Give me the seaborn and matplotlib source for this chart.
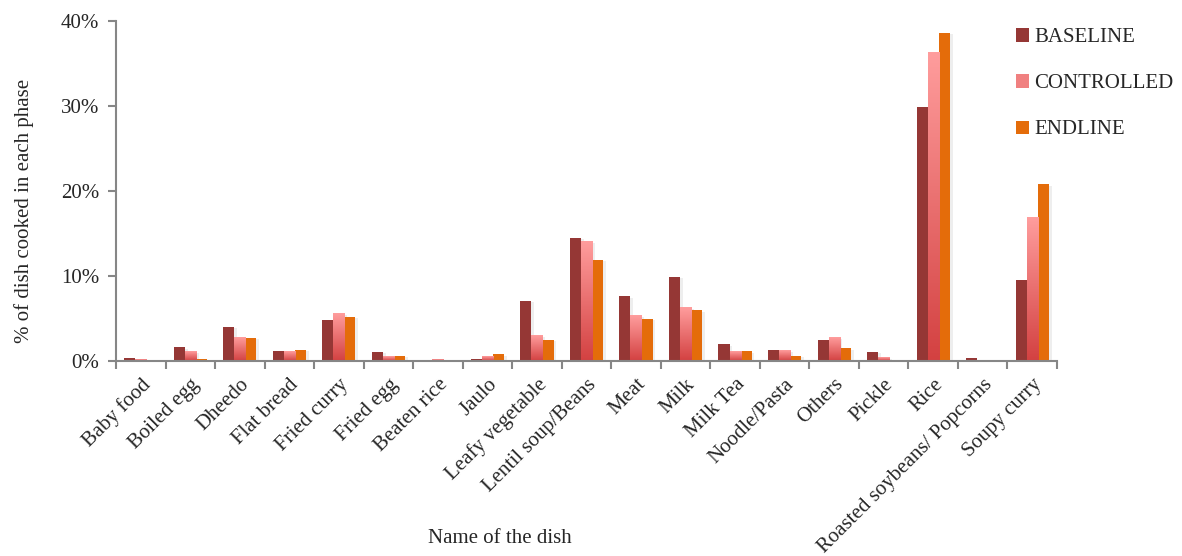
import numpy as np
import pandas as pd
import matplotlib
matplotlib.use("Agg")
import matplotlib.pyplot as plt
import matplotlib.patheffects as pe
from matplotlib.patches import Patch
from matplotlib.ticker import PercentFormatter, FixedLocator
import seaborn as sns

dishes = ["Baby food", "Boiled egg", "Dheedo", "Flat bread", "Fried curry",
          "Fried egg", "Beaten rice", "Jaulo", "Leafy vegetable",
          "Lentil soup/Beans", "Meat", "Milk", "Milk Tea", "Noodle/Pasta",
          "Others", "Pickle", "Rice", "Roasted soybeans/ Popcorns", "Soupy curry"]
phases = ["BASELINE", "CONTROLLED", "ENDLINE"]
baseline = [0.3, 1.6, 4.0, 1.15, 4.8, 1.1, 0.05, 0.2, 7.1, 14.5, 7.6, 9.9,
            1.95, 1.35, 2.5, 1.05, 29.9, 0.3, 9.5]
controlled = [0.2, 1.1, 2.8, 1.15, 5.6, 0.5, 0.2, 0.55, 3.0, 14.1, 5.35, 6.3,
              1.1, 1.2, 2.75, 0.4, 36.3, 0.0, 16.9]
endline = [0.0, 0.25, 2.7, 1.35, 5.2, 0.6, 0.0, 0.8, 2.5, 11.9, 5.0, 5.95,
           1.15, 0.6, 1.5, 0.15, 38.6, 0.0, 20.8]

df = pd.DataFrame({
    "dish": dishes * 3,
    "phase": np.repeat(phases, len(dishes)),
    "share": np.array(baseline + controlled + endline) / 100.0,
})

sns.set_theme(style="white")
plt.rcParams["font.family"] = ["Liberation Serif", "DejaVu Serif"]

colors = {"BASELINE": "#953735", "CONTROLLED": "#F08080", "ENDLINE": "#E46C0A"}
axis_grey = "#868686"

fig = plt.figure(figsize=(11.82, 5.56), dpi=100)
ax = fig.add_axes([116 / 1182, 1 - 361 / 556, (1057 - 116) / 1182, 340 / 556])

sns.barplot(data=df, x="dish", y="share", hue="phase", order=dishes,
            hue_order=phases, palette=colors, width=0.67, saturation=1,
            ax=ax, legend=False)

shadow = [pe.SimplePatchShadow(offset=(2, -1), shadow_rgbFace="#8f8f8f",
                               alpha=0.15), pe.Normal()]
for cont in ax.containers:
    for bar in cont:
        bar.set_edgecolor("none")
        bar.set_path_effects(shadow)

# vertical pink-to-red gradient on the CONTROLLED bars
top_c = np.array(matplotlib.colors.to_rgb("#FF9D9D"))
bot_c = np.array(matplotlib.colors.to_rgb("#D34141"))
t = np.linspace(0, 1, 128)[:, None]
grad = (top_c[None, :] * (1 - t) + bot_c[None, :] * t)[:, None, :]
for bar in ax.containers[1]:
    x0, w, h = bar.get_x(), bar.get_width(), bar.get_height()
    if h <= 0:
        continue
    ax.imshow(grad, extent=[x0, x0 + w, 0, h], aspect="auto",
              interpolation="bilinear", zorder=bar.get_zorder() + 0.1)

ax.set_xlim(-0.5, len(dishes) - 0.5)
ax.set_ylim(0, 0.40)
ax.yaxis.set_major_locator(FixedLocator([0, 0.1, 0.2, 0.3, 0.4]))
ax.yaxis.set_major_formatter(PercentFormatter(1.0, decimals=0))

for side in ["top", "right"]:
    ax.spines[side].set_visible(False)
for side in ["left", "bottom"]:
    ax.spines[side].set_color(axis_grey)
    ax.spines[side].set_linewidth(1.5)

ax.tick_params(axis="y", which="major", direction="out", length=6, width=1.5,
               color=axis_grey, labelsize=15, pad=6, left=True)
ax.tick_params(axis="x", which="major", length=0, labelsize=15, pad=10)
ax.set_xticks(np.arange(-0.5, len(dishes)), minor=True)
ax.tick_params(axis="x", which="minor", direction="out", length=6, width=1.5,
               color=axis_grey, bottom=True)
for lbl in ax.get_xticklabels():
    lbl.set_rotation(45)
    lbl.set_ha("right")
    lbl.set_rotation_mode("anchor")

ax.set_ylabel("% of dish cooked in each phase", fontsize=15)
ax.yaxis.set_label_coords((34 - 116) / 941, (361 - 211) / 340)
ax.set_xlabel("Name of the dish", fontsize=15)
ax.xaxis.set_label_coords((500 - 116) / 941, (361 - 529) / 340)

handles = [Patch(facecolor=colors[p], edgecolor="none") for p in phases]
fig.legend(handles, phases, loc="upper left",
           bbox_to_anchor=(1008 / 1182, 1 - 20 / 556), frameon=False,
           fontsize=15, handlelength=0.6, handleheight=0.6,
           handletextpad=0.25, labelspacing=1.3, borderaxespad=0)

fig.savefig("out.png", dpi=100)
